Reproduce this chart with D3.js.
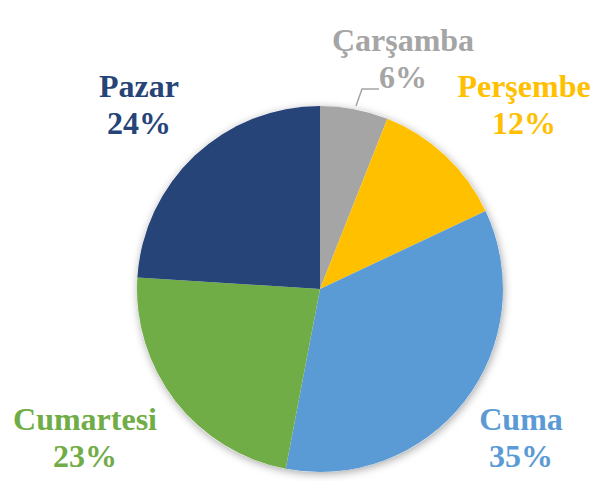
<!DOCTYPE html>
<html>
<head>
<meta charset="utf-8">
<script src="https://cdn.jsdelivr.net/npm/d3@7"></script>
<style>
  body { margin: 0; background: #fff; }
</style>
</head>
<body>
<script>
const svgW = 596;
const svgH = 481;

// data
const days = ['Çarşamba', 'Perşembe', 'Cuma', 'Cumartesi', 'Pazar'];
const shares = [6, 12, 35, 23, 24];
const colors = ['#A5A5A5', '#FFC000', '#5B9BD5', '#70AD47', '#264478'];
// label anchor (centre x, baseline of name line)
const labelPos = [[403, 51], [524, 97], [521, 430], [85, 430], [139, 97]];

const svg = d3.select('body')
  .append('svg')
  .attr('width', svgW)
  .attr('height', svgH);

// soft shadow round the pie
const defs = svg.append('defs');
const f = defs.append('filter').attr('id', 'sh')
  .attr('x', '-20%').attr('y', '-20%').attr('width', '140%').attr('height', '140%');
f.append('feDropShadow')
  .attr('dx', 1).attr('dy', 2).attr('stdDeviation', 4)
  .attr('flood-color', '#000').attr('flood-opacity', 0.35);

const cx = 320, cy = 289, r = 183;

const pie = d3.pie().sort(null).value(d => d);
const arc = d3.arc().innerRadius(0).outerRadius(r);
const color = d3.scaleOrdinal().domain(days).range(colors);

const g = svg.append('g')
  .attr('transform', `translate(${cx}, ${cy})`);

g.append('circle').attr('r', r).attr('fill', '#fff').attr('filter', 'url(#sh)');

g.selectAll('path')
  .data(pie(shares))
  .enter()
  .append('path')
  .attr('d', arc)
  .attr('fill', (d, i) => color(days[i]));

// leader line for the small slice
svg.append('polyline')
  .attr('points', '379,89 362,89 356,106')
  .attr('fill', 'none')
  .attr('stroke', '#A5A5A5')
  .attr('stroke-width', 1.5);

const labels = svg.selectAll('g.lbl')
  .data(days)
  .enter()
  .append('g')
  .attr('class', 'lbl')
  .attr('transform', (d, i) => `translate(${labelPos[i][0]}, ${labelPos[i][1]})`)
  .attr('fill', d => color(d))
  .attr('text-anchor', 'middle')
  .attr('font-family', "'Liberation Serif', 'Times New Roman', serif")
  .attr('font-weight', 'bold')
  .attr('font-size', 32);

labels.append('text').text(d => d);
labels.append('text').attr('y', 37).text((d, i) => shares[i] + '%');
</script>
</body>
</html>
